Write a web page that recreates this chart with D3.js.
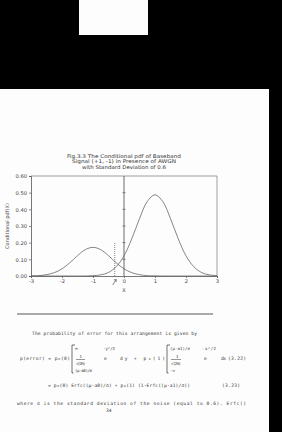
<!DOCTYPE html>
<html><head><meta charset="utf-8">
<script src="https://cdn.jsdelivr.net/npm/d3@7"></script>
<style>html,body{margin:0;padding:0;background:#000;}svg{display:block;}</style>
</head><body>
<script>
// ---- data ----
const xs = [-3,-2.75,-2.5,-2.25,-2,-1.75,-1.5,-1.25,-1,-0.75,-0.5,-0.25,0,0.25,0.5,0.75,1,1.25,1.5,1.75,2,2.25,2.5,2.75,3];
const pdfMinus = [0.001,0.002,0.008,0.020,0.043,0.079,0.122,0.158,0.172,0.158,0.122,0.079,0.043,0.020,0.008,0.002,0.001,0,0,0,0,0,0,0,0];
const pdfPlus  = [0,0,0,0,0,0,0,0,0.002,0.007,0.021,0.056,0.121,0.223,0.344,0.447,0.487,0.447,0.344,0.223,0.121,0.056,0.021,0.007,0.002];
const xTicks = [-3,-2,-1,0,1,2,3];
const yTicks = [0,0.1,0.2,0.3,0.4,0.5,0.6];
const threshold = -0.3;
const thresholdHeight = 0.2;
const titleLines = ["Fig.3.3 The Conditional pdf of Baseband","Signal (+1, -1) in Presence of AWGN","with Standard Deviation of 0.6"];
const yLabel = "Conditional pdf(X)";
const xLabel = "X";

const W = 282, H = 432;
const svg = d3.select("body").append("svg").attr("width", W).attr("height", H);
svg.append("rect").attr("width", W).attr("height", H).attr("fill", "#000");
// scanned page pieces
svg.append("rect").attr("x", 79).attr("y", 0).attr("width", 69).attr("height", 35).attr("fill", "#fdfdfd");
svg.append("rect").attr("x", 0).attr("y", 89).attr("width", 269).attr("height", H - 89).attr("fill", "#fdfdfd");

const x = d3.scaleLinear().domain([-3, 3]).range([31, 217]);
const y = d3.scaleLinear().domain([0, 0.6]).range([276, 176]);

// title
const tt = svg.append("g").attr("font-family", "DejaVu Sans, sans-serif").attr("font-size", 5.2).attr("fill", "#333").attr("text-anchor", "middle");
const tWidths = [114, 104, 84];
titleLines.forEach((t, i) => {
  tt.append("text").attr("x", 124).attr("y", 157.5 + i * 5.7).attr("textLength", tWidths[i]).attr("lengthAdjust", "spacingAndGlyphs").text(t);
});

// frame top/right
svg.append("path").attr("d", `M${x(-3)},${y(0.6)}H${x(3)}V${y(0)}`).attr("fill", "none").attr("stroke", "#777").attr("stroke-width", 0.7);

// axes
const ax = svg.append("g").attr("transform", `translate(0,${y(0)})`)
  .call(d3.axisBottom(x).tickValues(xTicks).tickSize(2).tickPadding(1).tickFormat(d => d < 0 ? "-" + Math.abs(d) : String(d)));
const ay = svg.append("g").attr("transform", `translate(${x(-3)},0)`)
  .call(d3.axisLeft(y).tickValues(yTicks).tickSize(2).tickPadding(2).tickFormat(d3.format(".2f")));
[ax, ay].forEach(g => {
  g.select(".domain").attr("stroke", "#555").attr("stroke-width", 0.8);
  g.selectAll(".tick line").attr("stroke", "#555").attr("stroke-width", 0.7);
  g.selectAll(".tick text").attr("font-family", "DejaVu Sans, sans-serif").attr("font-size", 5.2).attr("fill", "#444");
});
ax.selectAll(".tick text").attr("dy", "0.85em");

// center vertical line with cross ticks
svg.append("line").attr("x1", x(0)).attr("x2", x(0)).attr("y1", y(0.6)).attr("y2", y(0)).attr("stroke", "#444").attr("stroke-width", 0.8);
svg.append("g").selectAll("line").data(yTicks.slice(1, 6)).join("line")
  .attr("x1", x(0) - 1.5).attr("x2", x(0) + 1.5).attr("y1", d => y(d)).attr("y2", d => y(d))
  .attr("stroke", "#444").attr("stroke-width", 0.6);

// curves
const line = d3.line().x((d, i) => x(xs[i])).y(d => y(d)).curve(d3.curveCatmullRom);
[pdfMinus, pdfPlus].forEach(s => {
  svg.append("path").attr("d", line(s)).attr("fill", "none").attr("stroke", "#666").attr("stroke-width", 0.8);
});

// threshold dotted line
svg.append("line").attr("x1", x(threshold)).attr("x2", x(threshold)).attr("y1", y(0)).attr("y2", y(thresholdHeight))
  .attr("stroke", "#555").attr("stroke-width", 0.7).attr("stroke-dasharray", "1,1");
// arrow
svg.append("path").attr("d", `M${x(threshold) - 2},${y(0) + 9}L${x(threshold) + 1.5},${y(0) + 3.5}M${x(threshold) - 0.8},${y(0) + 4}L${x(threshold) + 1.5},${y(0) + 3.5}L${x(threshold) + 1.4},${y(0) + 6}`)
  .attr("fill", "none").attr("stroke", "#555").attr("stroke-width", 0.7);

// axis labels
svg.append("text").attr("x", x(0)).attr("y", 291.5).attr("text-anchor", "middle").attr("font-family", "DejaVu Sans, sans-serif").attr("font-size", 5).attr("fill", "#444").text(xLabel);
svg.append("text").attr("transform", `translate(8.5,${(y(0) + y(0.6)) / 2}) rotate(-90)`).attr("text-anchor", "middle")
  .attr("font-family", "DejaVu Sans, sans-serif").attr("font-size", 5).attr("fill", "#555").attr("textLength", 46).attr("lengthAdjust", "spacingAndGlyphs").text(yLabel);

// rule
svg.append("line").attr("x1", 17).attr("x2", 213).attr("y1", 314).attr("y2", 314).attr("stroke", "#444").attr("stroke-width", 0.9);

// body text
const bt = svg.append("g").attr("font-family", "DejaVu Sans Mono, monospace").attr("font-size", 4.6).attr("fill", "#333");
function txt(s, xx, yy, w, fs) {
  const t = bt.append("text").attr("x", xx).attr("y", yy).text(s);
  if (w) t.attr("textLength", w).attr("lengthAdjust", "spacing");
  if (fs) t.attr("font-size", fs);
  return t;
}
txt("The probability of error for this arrangement is given by", 32, 334.5, 165);
txt("p(error) = p\u2080(0)", 20, 359.5, 50);
txt("\u221e", 75, 350);
txt("1", 79.5, 357.5, null, 4);
bt.append("line").attr("x1", 76).attr("x2", 85).attr("y1", 359.5).attr("y2", 359.5).attr("stroke", "#333").attr("stroke-width", 0.5);
txt("\u221a(2\u03c0)", 76, 364.5, 9.5, 4);
txt("(\u03bc-a0)/\u03c3", 75, 371.5, 17, 4);
txt("-y\u00b2/2", 103, 349.5, 12, 4);
txt("e", 104, 360);
txt("dy + p\u2080(1)", 120, 359.5, 45);
txt("(\u03bc-a1)/\u03c3", 170, 349.5, 20, 4);
txt("1", 176, 357.5, null, 4);
bt.append("line").attr("x1", 171).attr("x2", 181).attr("y1", 359.5).attr("y2", 359.5).attr("stroke", "#333").attr("stroke-width", 0.5);
txt("\u221a(2\u03c0)", 171, 364.5, 10, 4);
txt("-\u221e", 170, 371.5, null, 4);
txt("-x\u00b2/2", 202, 349.5, 14, 4);
txt("e", 204, 360);
txt("dx", 221, 360, 5);
txt("(3.22)", 228, 360, 18);
[[72, 345, 373], [167, 345, 373]].forEach(([bx, y1, y2]) => {
  bt.append("path").attr("d", `M${bx + 3},${y1}H${bx}V${y2}H${bx + 1.5}`).attr("fill", "none").attr("stroke", "#333").attr("stroke-width", 0.7);
});
txt("= p\u2080(0) Erfc((\u03bc-a0)/\u03c3) + p\u2080(1) (1-Erfc((\u03bc-a1)/\u03c3))", 48, 386.5, 142);
txt("(3.23)", 222, 386.5, 18);
txt("where \u03c3 is the standard deviation of the noise (equal to 0.6). Erfc()", 17, 404.5, 229);
txt("34", 106, 411.5);
</script>
</body></html>
